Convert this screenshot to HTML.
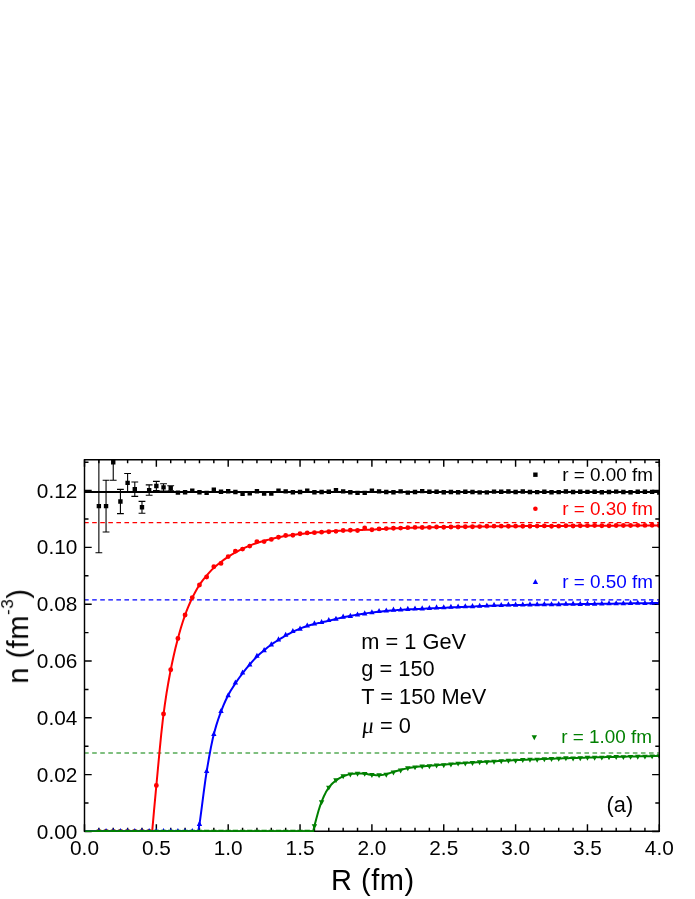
<!DOCTYPE html>
<html><head><meta charset="utf-8"><title>n(R)</title>
<style>html,body{margin:0;padding:0;background:#fff}svg{display:block}</style>
</head><body>
<svg width="695" height="899" viewBox="0 0 695 899">
<rect width="695" height="899" fill="#fff"/>
<defs><clipPath id="c"><rect x="83.8" y="459" width="576.2" height="373"/></clipPath></defs>
<path d="M84.5 831.3v-7M84.5 459.7v7M98.87 831.3v-3.6M98.87 459.7v3.6M113.24 831.3v-3.6M113.24 459.7v3.6M127.61 831.3v-3.6M127.61 459.7v3.6M141.98 831.3v-3.6M141.98 459.7v3.6M156.35 831.3v-7M156.35 459.7v7M170.72 831.3v-3.6M170.72 459.7v3.6M185.09 831.3v-3.6M185.09 459.7v3.6M199.46 831.3v-3.6M199.46 459.7v3.6M213.83 831.3v-3.6M213.83 459.7v3.6M228.2 831.3v-7M228.2 459.7v7M242.57 831.3v-3.6M242.57 459.7v3.6M256.94 831.3v-3.6M256.94 459.7v3.6M271.31 831.3v-3.6M271.31 459.7v3.6M285.68 831.3v-3.6M285.68 459.7v3.6M300.05 831.3v-7M300.05 459.7v7M314.42 831.3v-3.6M314.42 459.7v3.6M328.79 831.3v-3.6M328.79 459.7v3.6M343.16 831.3v-3.6M343.16 459.7v3.6M357.53 831.3v-3.6M357.53 459.7v3.6M371.9 831.3v-7M371.9 459.7v7M386.27 831.3v-3.6M386.27 459.7v3.6M400.64 831.3v-3.6M400.64 459.7v3.6M415.01 831.3v-3.6M415.01 459.7v3.6M429.38 831.3v-3.6M429.38 459.7v3.6M443.75 831.3v-7M443.75 459.7v7M458.12 831.3v-3.6M458.12 459.7v3.6M472.49 831.3v-3.6M472.49 459.7v3.6M486.86 831.3v-3.6M486.86 459.7v3.6M501.23 831.3v-3.6M501.23 459.7v3.6M515.6 831.3v-7M515.6 459.7v7M529.97 831.3v-3.6M529.97 459.7v3.6M544.34 831.3v-3.6M544.34 459.7v3.6M558.71 831.3v-3.6M558.71 459.7v3.6M573.08 831.3v-3.6M573.08 459.7v3.6M587.45 831.3v-7M587.45 459.7v7M601.82 831.3v-3.6M601.82 459.7v3.6M616.19 831.3v-3.6M616.19 459.7v3.6M630.56 831.3v-3.6M630.56 459.7v3.6M644.93 831.3v-3.6M644.93 459.7v3.6M659.3 831.3v-7M659.3 459.7v7M84.5 831.45h7.2M659.3 831.45h-7.2M84.5 803.04h4M659.3 803.04h-4M84.5 774.64h7.2M659.3 774.64h-7.2M84.5 746.23h4M659.3 746.23h-4M84.5 717.83h7.2M659.3 717.83h-7.2M84.5 689.42h4M659.3 689.42h-4M84.5 661.01h7.2M659.3 661.01h-7.2M84.5 632.61h4M659.3 632.61h-4M84.5 604.2h7.2M659.3 604.2h-7.2M84.5 575.8h4M659.3 575.8h-4M84.5 547.39h7.2M659.3 547.39h-7.2M84.5 518.98h4M659.3 518.98h-4M84.5 490.58h7.2M659.3 490.58h-7.2M84.5 462.17h4M659.3 462.17h-4" stroke="#000" stroke-width="1.45" fill="none"/><line x1="84.5" x2="659.3" y1="831.3" y2="831.3" stroke="#000" stroke-width="1.45"/>
<g clip-path="url(#c)">
<line x1="84.1" x2="659.3" y1="522.5" y2="522.5" stroke="#f00" stroke-width="1.25" stroke-dasharray="4.6 3.47"/>
<line x1="84.1" x2="659.3" y1="599.85" y2="599.85" stroke="#00f" stroke-width="1.25" stroke-dasharray="4.6 3.47"/>
<line x1="84.1" x2="659.3" y1="753" y2="753" stroke="#008000" stroke-width="1.15" stroke-dasharray="4.6 3.47"/>
<g stroke="#000" stroke-width="1.1" fill="none">
<path d="M98.87 459.5V552.7M95.47 459.5H102.27M95.47 552.7H102.27"/>
<path d="M106.05 480.2V532M102.65 480.2H109.45M102.65 532H109.45"/>
<path d="M113.24 444.2V480.2M109.84 444.2H116.64M109.84 480.2H116.64"/>
<path d="M120.42 489.4V513.6M117.02 489.4H123.83M117.02 513.6H123.83"/>
<path d="M127.61 473.5V492.3M124.21 473.5H131.01M124.21 492.3H131.01"/>
<path d="M134.79 482V496.4M131.39 482H138.19M131.39 496.4H138.19"/>
<path d="M141.98 501.4V513.2M138.58 501.4H145.38M138.58 513.2H145.38"/>
<path d="M149.16 484.9V495.3M145.76 484.9H152.56M145.76 495.3H152.56"/>
<path d="M156.35 481.4V490.6M152.95 481.4H159.75M152.95 490.6H159.75"/>
<path d="M163.53 483.8V491M160.13 483.8H166.94M160.13 491H166.94"/>
<path d="M170.72 485.7V490.9M167.32 485.7H174.12M167.32 490.9H174.12"/>
</g>
<line x1="84.5" x2="659.3" y1="492.05" y2="492.05" stroke="#000" stroke-width="2"/>
<path d="M96.67 503.9h4.4v4.4h-4.4zM103.85 503.9h4.4v4.4h-4.4zM111.04 460h4.4v4.4h-4.4zM118.22 499.3h4.4v4.4h-4.4zM125.41 480.7h4.4v4.4h-4.4zM132.59 487h4.4v4.4h-4.4zM139.78 505.1h4.4v4.4h-4.4zM146.97 487.9h4.4v4.4h-4.4zM154.15 483.8h4.4v4.4h-4.4zM161.34 485.2h4.4v4.4h-4.4zM168.52 486.1h4.4v4.4h-4.4zM175.71 490.4h4.4v4.4h-4.4zM182.89 490.1h4.4v4.4h-4.4zM190.07 488.4h4.4v4.4h-4.4zM197.26 490.1h4.4v4.4h-4.4zM204.44 490.7h4.4v4.4h-4.4zM211.63 487.5h4.4v4.4h-4.4zM218.81 489.5h4.4v4.4h-4.4zM226 489h4.4v4.4h-4.4zM233.19 489.8h4.4v4.4h-4.4zM240.37 491.5h4.4v4.4h-4.4zM247.55 491.2h4.4v4.4h-4.4zM254.74 489h4.4v4.4h-4.4zM261.93 491.4h4.4v4.4h-4.4zM269.11 491.4h4.4v4.4h-4.4zM276.3 488.5h4.4v4.4h-4.4zM283.48 489.2h4.4v4.4h-4.4zM290.67 490.1h4.4v4.4h-4.4zM297.85 489.8h4.4v4.4h-4.4zM305.04 488.5h4.4v4.4h-4.4zM312.22 490.1h4.4v4.4h-4.4zM319.4 489.8h4.4v4.4h-4.4zM326.59 489.5h4.4v4.4h-4.4zM333.77 488h4.4v4.4h-4.4zM340.96 489.2h4.4v4.4h-4.4zM348.14 490.1h4.4v4.4h-4.4zM355.33 490.7h4.4v4.4h-4.4zM362.51 490.7h4.4v4.4h-4.4zM369.7 488.5h4.4v4.4h-4.4zM376.88 489.2h4.4v4.4h-4.4zM384.07 489.8h4.4v4.4h-4.4zM391.25 490.1h4.4v4.4h-4.4zM398.44 489.2h4.4v4.4h-4.4zM405.62 490.4h4.4v4.4h-4.4zM412.81 489.8h4.4v4.4h-4.4zM420 488.9h4.4v4.4h-4.4zM427.18 489.5h4.4v4.4h-4.4zM434.37 489.5h4.4v4.4h-4.4zM441.55 490.1h4.4v4.4h-4.4zM448.73 489.85h4.4v4.4h-4.4zM455.92 490.01h4.4v4.4h-4.4zM463.1 489.59h4.4v4.4h-4.4zM470.29 489.81h4.4v4.4h-4.4zM477.47 490.19h4.4v4.4h-4.4zM484.66 490.2h4.4v4.4h-4.4zM491.84 489.43h4.4v4.4h-4.4zM499.03 489.51h4.4v4.4h-4.4zM506.21 489.35h4.4v4.4h-4.4zM513.4 489.74h4.4v4.4h-4.4zM520.58 489.33h4.4v4.4h-4.4zM527.77 489.76h4.4v4.4h-4.4zM534.95 489.95h4.4v4.4h-4.4zM542.14 489.58h4.4v4.4h-4.4zM549.32 489.98h4.4v4.4h-4.4zM556.51 489.89h4.4v4.4h-4.4zM563.69 489.32h4.4v4.4h-4.4zM570.88 489.86h4.4v4.4h-4.4zM578.06 489.56h4.4v4.4h-4.4zM585.25 489.72h4.4v4.4h-4.4zM592.43 489.58h4.4v4.4h-4.4zM599.62 489.99h4.4v4.4h-4.4zM606.8 489.74h4.4v4.4h-4.4zM613.99 489.46h4.4v4.4h-4.4zM621.17 489.84h4.4v4.4h-4.4zM628.36 490.08h4.4v4.4h-4.4zM635.54 489.61h4.4v4.4h-4.4zM642.73 489.52h4.4v4.4h-4.4zM649.91 489.69h4.4v4.4h-4.4zM657.1 490.24h4.4v4.4h-4.4z" fill="#000"/>
<polyline fill="none" stroke="#f00" stroke-width="2" stroke-linejoin="round" points="84.5,831.15 151.88,831.15 152.18,831.45 153.98,811.19 155.78,791.59 157.57,772.47 159.37,753.18 161.16,734.8 162.96,718.55 164.76,705.08 166.55,693.19 168.35,682.51 170.15,672.76 171.94,663.75 173.74,655.44 175.53,647.78 177.33,640.67 179.13,634.02 180.92,627.78 182.72,621.96 184.52,616.61 186.31,611.72 188.11,607.21 189.9,603.01 191.7,599.1 193.5,595.41 195.29,591.92 197.09,588.66 198.89,585.68 200.68,583.03 202.48,580.63 204.27,578.41 206.07,576.28 207.87,574.17 209.66,572.12 211.46,570.17 213.26,568.35 215.05,566.69 216.85,565.16 218.64,563.72 220.44,562.34 222.24,560.98 224.03,559.67 225.83,558.4 227.63,557.18 229.42,556 231.22,554.86 233.01,553.76 234.81,552.72 236.61,551.74 238.4,550.82 240.2,549.93 242,549.07 243.79,548.23 245.59,547.4 247.38,546.59 249.18,545.83 250.98,545.12 252.77,544.44 254.57,543.8 256.37,543.19 258.16,542.61 259.96,542.08 261.75,541.56 263.55,541.06 265.35,540.56 267.14,540.08 268.94,539.6 270.74,539.14 272.53,538.7 274.33,538.26 276.12,537.83 277.92,537.42 279.72,537.04 281.51,536.67 283.31,536.32 285.11,536 286.9,535.71 288.7,535.45 290.49,535.21 292.29,534.98 294.09,534.74 295.88,534.51 297.68,534.29 299.48,534.07 301.27,533.86 303.07,533.65 304.86,533.45 306.66,533.26 308.46,533.07 310.25,532.89 312.05,532.71 313.85,532.55 315.64,532.41 317.44,532.28 319.23,532.17 321.03,532.04 322.83,531.9 324.62,531.74 326.42,531.58 328.22,531.44 330.01,531.33 331.81,531.22 333.6,531.12 335.4,531.03 337.2,530.94 338.99,530.85 340.79,530.77 342.59,530.69 344.38,530.61 346.18,530.54 347.97,530.47 349.77,530.4 351.57,530.33 353.36,530.26 355.16,530.19 356.96,530.12 358.75,530.05 360.55,529.99 362.34,529.93 364.14,529.87 365.94,529.82 367.73,529.76 369.53,529.69 371.33,529.62 373.12,529.55 374.92,529.46 376.71,529.36 378.51,529.26 380.31,529.15 382.1,529.04 383.9,528.92 385.7,528.81 387.49,528.71 389.29,528.6 391.08,528.51 392.88,528.43 394.68,528.35 396.47,528.27 398.27,528.2 400.07,528.13 401.86,528.06 403.66,528 405.45,527.93 407.25,527.87 409.05,527.81 410.84,527.75 412.64,527.7 414.44,527.65 416.23,527.6 418.03,527.55 419.82,527.51 421.62,527.46 423.42,527.42 425.21,527.38 427.01,527.34 428.81,527.3 430.6,527.27 432.4,527.23 434.19,527.19 435.99,527.16 437.79,527.12 439.58,527.09 441.38,527.05 443.18,527.02 444.97,526.99 446.77,526.96 448.56,526.93 450.36,526.9 452.16,526.87 453.95,526.84 455.75,526.81 457.55,526.78 459.34,526.76 461.14,526.73 462.93,526.71 464.73,526.68 466.53,526.66 468.32,526.63 470.12,526.61 471.92,526.59 473.71,526.57 475.51,526.55 477.3,526.53 479.1,526.51 480.9,526.49 482.69,526.47 484.49,526.45 486.29,526.43 488.08,526.42 489.88,526.4 491.67,526.38 493.47,526.37 495.27,526.35 497.06,526.33 498.86,526.32 500.66,526.3 502.45,526.29 504.25,526.27 506.04,526.26 507.84,526.25 509.64,526.23 511.43,526.22 513.23,526.21 515.03,526.19 516.82,526.18 518.62,526.17 520.41,526.15 522.21,526.14 524.01,526.13 525.8,526.12 527.6,526.11 529.4,526.09 531.19,526.08 532.99,526.07 534.78,526.06 536.58,526.05 538.38,526.04 540.17,526.03 541.97,526.01 543.77,526 545.56,525.99 547.36,525.98 549.15,525.97 550.95,525.96 552.75,525.95 554.54,525.94 556.34,525.93 558.14,525.92 559.93,525.91 561.73,525.9 563.52,525.89 565.32,525.88 567.12,525.87 568.91,525.86 570.71,525.85 572.51,525.85 574.3,525.84 576.1,525.83 577.89,525.82 579.69,525.81 581.49,525.8 583.28,525.79 585.08,525.78 586.88,525.78 588.67,525.77 590.47,525.76 592.26,525.75 594.06,525.74 595.86,525.73 597.65,525.72 599.45,525.71 601.25,525.7 603.04,525.69 604.84,525.68 606.63,525.67 608.43,525.67 610.23,525.66 612.02,525.65 613.82,525.64 615.62,525.63 617.41,525.62 619.21,525.61 621,525.6 622.8,525.59 624.6,525.58 626.39,525.57 628.19,525.56 629.99,525.55 631.78,525.54 633.58,525.53 635.37,525.52 637.17,525.52 638.97,525.51 640.76,525.5 642.56,525.49 644.36,525.48 646.15,525.47 647.95,525.46 649.74,525.45 651.54,525.44 653.34,525.43 655.13,525.42 656.93,525.41 658.73,525.4 659.3,525.4"/>
<path d="M96.42 831.45a2.45 2.45 0 1 0 4.9 0a2.45 2.45 0 1 0 -4.9 0zM103.6 831.45a2.45 2.45 0 1 0 4.9 0a2.45 2.45 0 1 0 -4.9 0zM110.79 831.45a2.45 2.45 0 1 0 4.9 0a2.45 2.45 0 1 0 -4.9 0zM117.97 831.45a2.45 2.45 0 1 0 4.9 0a2.45 2.45 0 1 0 -4.9 0zM125.16 831.45a2.45 2.45 0 1 0 4.9 0a2.45 2.45 0 1 0 -4.9 0zM132.34 831.45a2.45 2.45 0 1 0 4.9 0a2.45 2.45 0 1 0 -4.9 0zM139.53 831.45a2.45 2.45 0 1 0 4.9 0a2.45 2.45 0 1 0 -4.9 0zM146.72 831.45a2.45 2.45 0 1 0 4.9 0a2.45 2.45 0 1 0 -4.9 0zM153.9 785.5a2.45 2.45 0 1 0 4.9 0a2.45 2.45 0 1 0 -4.9 0zM161.09 714a2.45 2.45 0 1 0 4.9 0a2.45 2.45 0 1 0 -4.9 0zM168.27 669.8a2.45 2.45 0 1 0 4.9 0a2.45 2.45 0 1 0 -4.9 0zM175.46 638.5a2.45 2.45 0 1 0 4.9 0a2.45 2.45 0 1 0 -4.9 0zM182.64 615a2.45 2.45 0 1 0 4.9 0a2.45 2.45 0 1 0 -4.9 0zM189.82 597.6a2.45 2.45 0 1 0 4.9 0a2.45 2.45 0 1 0 -4.9 0zM197.01 585a2.45 2.45 0 1 0 4.9 0a2.45 2.45 0 1 0 -4.9 0zM204.19 577a2.45 2.45 0 1 0 4.9 0a2.45 2.45 0 1 0 -4.9 0zM211.38 566.7a2.45 2.45 0 1 0 4.9 0a2.45 2.45 0 1 0 -4.9 0zM218.56 563.4a2.45 2.45 0 1 0 4.9 0a2.45 2.45 0 1 0 -4.9 0zM225.75 556.6a2.45 2.45 0 1 0 4.9 0a2.45 2.45 0 1 0 -4.9 0zM232.94 551.2a2.45 2.45 0 1 0 4.9 0a2.45 2.45 0 1 0 -4.9 0zM240.12 549.1a2.45 2.45 0 1 0 4.9 0a2.45 2.45 0 1 0 -4.9 0zM247.3 546.1a2.45 2.45 0 1 0 4.9 0a2.45 2.45 0 1 0 -4.9 0zM254.49 541.6a2.45 2.45 0 1 0 4.9 0a2.45 2.45 0 1 0 -4.9 0zM261.68 541.6a2.45 2.45 0 1 0 4.9 0a2.45 2.45 0 1 0 -4.9 0zM268.86 539.4a2.45 2.45 0 1 0 4.9 0a2.45 2.45 0 1 0 -4.9 0zM276.05 537.2a2.45 2.45 0 1 0 4.9 0a2.45 2.45 0 1 0 -4.9 0zM283.23 535.5a2.45 2.45 0 1 0 4.9 0a2.45 2.45 0 1 0 -4.9 0zM290.42 535.21a2.45 2.45 0 1 0 4.9 0a2.45 2.45 0 1 0 -4.9 0zM297.6 533.77a2.45 2.45 0 1 0 4.9 0a2.45 2.45 0 1 0 -4.9 0zM304.79 532.91a2.45 2.45 0 1 0 4.9 0a2.45 2.45 0 1 0 -4.9 0zM311.97 532.64a2.45 2.45 0 1 0 4.9 0a2.45 2.45 0 1 0 -4.9 0zM319.15 532.16a2.45 2.45 0 1 0 4.9 0a2.45 2.45 0 1 0 -4.9 0zM326.34 531.75a2.45 2.45 0 1 0 4.9 0a2.45 2.45 0 1 0 -4.9 0zM333.52 531.37a2.45 2.45 0 1 0 4.9 0a2.45 2.45 0 1 0 -4.9 0zM340.71 530.47a2.45 2.45 0 1 0 4.9 0a2.45 2.45 0 1 0 -4.9 0zM347.89 530.29a2.45 2.45 0 1 0 4.9 0a2.45 2.45 0 1 0 -4.9 0zM355.08 530.5a2.45 2.45 0 1 0 4.9 0a2.45 2.45 0 1 0 -4.9 0zM362.26 528a2.45 2.45 0 1 0 4.9 0a2.45 2.45 0 1 0 -4.9 0zM369.45 529.69a2.45 2.45 0 1 0 4.9 0a2.45 2.45 0 1 0 -4.9 0zM376.63 528.91a2.45 2.45 0 1 0 4.9 0a2.45 2.45 0 1 0 -4.9 0zM383.82 528.58a2.45 2.45 0 1 0 4.9 0a2.45 2.45 0 1 0 -4.9 0zM391 528.31a2.45 2.45 0 1 0 4.9 0a2.45 2.45 0 1 0 -4.9 0zM398.19 528.08a2.45 2.45 0 1 0 4.9 0a2.45 2.45 0 1 0 -4.9 0zM405.38 527.63a2.45 2.45 0 1 0 4.9 0a2.45 2.45 0 1 0 -4.9 0zM412.56 527.39a2.45 2.45 0 1 0 4.9 0a2.45 2.45 0 1 0 -4.9 0zM419.75 527.53a2.45 2.45 0 1 0 4.9 0a2.45 2.45 0 1 0 -4.9 0zM426.93 527.42a2.45 2.45 0 1 0 4.9 0a2.45 2.45 0 1 0 -4.9 0zM434.12 527a2.45 2.45 0 1 0 4.9 0a2.45 2.45 0 1 0 -4.9 0zM441.3 527.23a2.45 2.45 0 1 0 4.9 0a2.45 2.45 0 1 0 -4.9 0zM448.48 526.95a2.45 2.45 0 1 0 4.9 0a2.45 2.45 0 1 0 -4.9 0zM455.67 526.99a2.45 2.45 0 1 0 4.9 0a2.45 2.45 0 1 0 -4.9 0zM462.85 526.76a2.45 2.45 0 1 0 4.9 0a2.45 2.45 0 1 0 -4.9 0zM470.04 526.8a2.45 2.45 0 1 0 4.9 0a2.45 2.45 0 1 0 -4.9 0zM477.22 526.6a2.45 2.45 0 1 0 4.9 0a2.45 2.45 0 1 0 -4.9 0zM484.41 526.28a2.45 2.45 0 1 0 4.9 0a2.45 2.45 0 1 0 -4.9 0zM491.59 526.16a2.45 2.45 0 1 0 4.9 0a2.45 2.45 0 1 0 -4.9 0zM498.78 526.15a2.45 2.45 0 1 0 4.9 0a2.45 2.45 0 1 0 -4.9 0zM505.96 526.21a2.45 2.45 0 1 0 4.9 0a2.45 2.45 0 1 0 -4.9 0zM513.15 526.13a2.45 2.45 0 1 0 4.9 0a2.45 2.45 0 1 0 -4.9 0zM520.33 526.21a2.45 2.45 0 1 0 4.9 0a2.45 2.45 0 1 0 -4.9 0zM527.52 526.26a2.45 2.45 0 1 0 4.9 0a2.45 2.45 0 1 0 -4.9 0zM534.7 526.08a2.45 2.45 0 1 0 4.9 0a2.45 2.45 0 1 0 -4.9 0zM541.89 525.88a2.45 2.45 0 1 0 4.9 0a2.45 2.45 0 1 0 -4.9 0zM549.07 526.18a2.45 2.45 0 1 0 4.9 0a2.45 2.45 0 1 0 -4.9 0zM556.26 526.16a2.45 2.45 0 1 0 4.9 0a2.45 2.45 0 1 0 -4.9 0zM563.44 525.74a2.45 2.45 0 1 0 4.9 0a2.45 2.45 0 1 0 -4.9 0zM570.63 525.94a2.45 2.45 0 1 0 4.9 0a2.45 2.45 0 1 0 -4.9 0zM577.81 525.71a2.45 2.45 0 1 0 4.9 0a2.45 2.45 0 1 0 -4.9 0zM585 525.66a2.45 2.45 0 1 0 4.9 0a2.45 2.45 0 1 0 -4.9 0zM592.18 525.52a2.45 2.45 0 1 0 4.9 0a2.45 2.45 0 1 0 -4.9 0zM599.37 525.75a2.45 2.45 0 1 0 4.9 0a2.45 2.45 0 1 0 -4.9 0zM606.55 525.73a2.45 2.45 0 1 0 4.9 0a2.45 2.45 0 1 0 -4.9 0zM613.74 525.47a2.45 2.45 0 1 0 4.9 0a2.45 2.45 0 1 0 -4.9 0zM620.92 525.46a2.45 2.45 0 1 0 4.9 0a2.45 2.45 0 1 0 -4.9 0zM628.11 525.47a2.45 2.45 0 1 0 4.9 0a2.45 2.45 0 1 0 -4.9 0zM635.29 525.36a2.45 2.45 0 1 0 4.9 0a2.45 2.45 0 1 0 -4.9 0zM642.48 525.4a2.45 2.45 0 1 0 4.9 0a2.45 2.45 0 1 0 -4.9 0zM649.66 525.21a2.45 2.45 0 1 0 4.9 0a2.45 2.45 0 1 0 -4.9 0zM656.85 525.48a2.45 2.45 0 1 0 4.9 0a2.45 2.45 0 1 0 -4.9 0z" fill="#f00"/>
<polyline fill="none" stroke="#00f" stroke-width="2" stroke-linejoin="round" points="84.5,831.15 198.01,831.15 198.31,831.45 200.11,819.88 201.9,806.48 203.7,792.45 205.5,779.14 207.29,767.69 209.09,757.25 210.88,747.6 212.68,739.01 214.48,731.72 216.27,725.38 218.07,719.72 219.87,714.59 221.66,709.81 223.46,705.36 225.25,701.25 227.05,697.46 228.85,693.99 230.64,690.84 232.44,687.92 234.24,685.14 236.03,682.43 237.83,679.8 239.62,677.26 241.42,674.82 243.22,672.46 245.01,670.18 246.81,667.98 248.61,665.84 250.4,663.75 252.2,661.69 253.99,659.68 255.79,657.76 257.59,655.97 259.38,654.29 261.18,652.7 262.98,651.16 264.77,649.66 266.57,648.2 268.36,646.79 270.16,645.43 271.96,644.14 273.75,642.93 275.55,641.76 277.35,640.62 279.14,639.5 280.94,638.39 282.73,637.31 284.53,636.25 286.33,635.24 288.12,634.25 289.92,633.29 291.72,632.37 293.51,631.49 295.31,630.65 297.1,629.84 298.9,629.07 300.7,628.34 302.49,627.66 304.29,627 306.09,626.38 307.88,625.79 309.68,625.23 311.47,624.69 313.27,624.19 315.07,623.75 316.86,623.36 318.66,623 320.46,622.65 322.25,622.25 324.05,621.84 325.84,621.41 327.64,620.97 329.44,620.55 331.23,620.12 333.03,619.68 334.83,619.24 336.62,618.8 338.42,618.37 340.21,617.95 342.01,617.54 343.81,617.15 345.6,616.78 347.4,616.44 349.2,616.1 350.99,615.76 352.79,615.44 354.58,615.12 356.38,614.8 358.18,614.5 359.97,614.2 361.77,613.92 363.57,613.64 365.36,613.37 367.16,613.12 368.95,612.87 370.75,612.64 372.55,612.42 374.34,612.21 376.14,612 377.94,611.8 379.73,611.6 381.53,611.41 383.32,611.22 385.12,611.04 386.92,610.87 388.71,610.71 390.51,610.55 392.31,610.4 394.1,610.26 395.9,610.13 397.69,610 399.49,609.89 401.29,609.78 403.08,609.68 404.88,609.58 406.68,609.49 408.47,609.4 410.27,609.31 412.06,609.23 413.86,609.15 415.66,609.07 417.45,608.99 419.25,608.9 421.05,608.82 422.84,608.74 424.64,608.65 426.43,608.57 428.23,608.48 430.03,608.39 431.82,608.31 433.62,608.22 435.42,608.14 437.21,608.06 439.01,607.97 440.8,607.89 442.6,607.81 444.4,607.73 446.19,607.65 447.99,607.57 449.79,607.49 451.58,607.41 453.38,607.33 455.17,607.25 456.97,607.17 458.77,607.1 460.56,607.02 462.36,606.94 464.16,606.87 465.95,606.79 467.75,606.72 469.54,606.64 471.34,606.57 473.14,606.49 474.93,606.42 476.73,606.34 478.53,606.26 480.32,606.18 482.12,606.1 483.91,606.02 485.71,605.94 487.51,605.86 489.3,605.78 491.1,605.7 492.9,605.63 494.69,605.56 496.49,605.5 498.28,605.44 500.08,605.39 501.88,605.35 503.67,605.3 505.47,605.26 507.27,605.22 509.06,605.18 510.86,605.15 512.65,605.11 514.45,605.08 516.25,605.04 518.04,605.01 519.84,604.98 521.64,604.95 523.43,604.92 525.23,604.89 527.02,604.86 528.82,604.84 530.62,604.81 532.41,604.78 534.21,604.75 536.01,604.73 537.8,604.7 539.6,604.67 541.39,604.65 543.19,604.62 544.99,604.59 546.78,604.56 548.58,604.53 550.38,604.51 552.17,604.48 553.97,604.45 555.76,604.43 557.56,604.4 559.36,604.38 561.15,604.35 562.95,604.33 564.75,604.3 566.54,604.28 568.34,604.25 570.13,604.23 571.93,604.2 573.73,604.18 575.52,604.15 577.32,604.13 579.12,604.11 580.91,604.08 582.71,604.06 584.5,604.03 586.3,604.01 588.1,603.99 589.89,603.96 591.69,603.94 593.49,603.91 595.28,603.89 597.08,603.87 598.87,603.84 600.67,603.82 602.47,603.79 604.26,603.77 606.06,603.74 607.86,603.72 609.65,603.69 611.45,603.67 613.24,603.64 615.04,603.62 616.84,603.59 618.63,603.57 620.43,603.54 622.23,603.52 624.02,603.49 625.82,603.47 627.61,603.44 629.41,603.42 631.21,603.39 633,603.37 634.8,603.34 636.6,603.32 638.39,603.29 640.19,603.27 641.98,603.24 643.78,603.22 645.58,603.19 647.37,603.17 649.17,603.14 650.97,603.12 652.76,603.09 654.56,603.07 656.35,603.04 658.15,603.02 659.3,603"/>
<path d="M98.87 827.95L101.57 833.05L96.17 833.05zM106.05 827.95L108.75 833.05L103.35 833.05zM113.24 827.95L115.94 833.05L110.54 833.05zM120.42 827.95L123.12 833.05L117.72 833.05zM127.61 827.95L130.31 833.05L124.91 833.05zM134.79 827.95L137.49 833.05L132.09 833.05zM141.98 827.95L144.68 833.05L139.28 833.05zM149.16 827.95L151.86 833.05L146.47 833.05zM156.35 827.95L159.05 833.05L153.65 833.05zM163.53 827.95L166.23 833.05L160.84 833.05zM170.72 827.95L173.42 833.05L168.02 833.05zM177.91 827.95L180.6 833.05L175.21 833.05zM185.09 827.95L187.79 833.05L182.39 833.05zM192.27 827.95L194.97 833.05L189.57 833.05zM199.46 820.8L202.16 825.9L196.76 825.9zM206.64 767.88L209.34 772.98L203.94 772.98zM213.83 730.91L216.53 736.01L211.13 736.01zM221.01 707.97L223.71 713.07L218.31 713.07zM228.2 692.14L230.9 697.24L225.5 697.24zM235.38 679.52L238.08 684.62L232.69 684.62zM242.57 669.44L245.27 674.54L239.87 674.54zM249.75 661.42L252.45 666.52L247.05 666.52zM256.94 652.69L259.64 657.79L254.24 657.79zM264.12 647.03L266.82 652.13L261.43 652.13zM271.31 641.29L274.01 646.39L268.61 646.39zM278.5 636.3L281.19 641.4L275.8 641.4zM285.68 631.7L288.38 636.8L282.98 636.8zM292.87 627.98L295.56 633.08L290.17 633.08zM300.05 625.55L302.75 630.65L297.35 630.65zM307.24 622.48L309.94 627.58L304.54 627.58zM314.42 620.35L317.12 625.45L311.72 625.45zM321.6 618.91L324.3 624.01L318.9 624.01zM328.79 616.96L331.49 622.06L326.09 622.06zM335.97 615.76L338.67 620.86L333.27 620.86zM343.16 613.55L345.86 618.65L340.46 618.65zM350.34 612.81L353.04 617.91L347.64 617.91zM357.53 611.43L360.23 616.53L354.83 616.53zM364.71 610.31L367.41 615.41L362.01 615.41zM371.9 609.17L374.6 614.27L369.2 614.27zM379.08 608.02L381.78 613.12L376.38 613.12zM386.27 607.46L388.97 612.56L383.57 612.56zM393.45 606.53L396.15 611.63L390.75 611.63zM400.64 606.42L403.34 611.52L397.94 611.52zM407.82 605.81L410.52 610.91L405.12 610.91zM415.01 605.49L417.71 610.59L412.31 610.59zM422.19 605.35L424.89 610.45L419.5 610.45zM429.38 605.01L432.08 610.11L426.68 610.11zM436.56 604.35L439.26 609.45L433.87 609.45zM443.75 604.2L446.45 609.3L441.05 609.3zM450.93 603.71L453.63 608.81L448.23 608.81zM458.12 603.49L460.82 608.59L455.42 608.59zM465.3 603.16L468 608.26L462.6 608.26zM472.49 603.07L475.19 608.17L469.79 608.17zM479.67 602.74L482.37 607.84L476.97 607.84zM486.86 602.43L489.56 607.53L484.16 607.53zM494.04 601.84L496.74 606.94L491.34 606.94zM501.23 602.02L503.93 607.12L498.53 607.12zM508.41 601.47L511.11 606.57L505.71 606.57zM515.6 601.6L518.3 606.7L512.9 606.7zM522.78 601.47L525.49 606.57L520.08 606.57zM529.97 601.34L532.67 606.44L527.27 606.44zM537.15 601.27L539.86 606.37L534.45 606.37zM544.34 601.12L547.04 606.22L541.64 606.22zM551.52 601.22L554.23 606.32L548.82 606.32zM558.71 601.09L561.41 606.19L556.01 606.19zM565.89 600.67L568.6 605.77L563.19 605.77zM573.08 600.62L575.78 605.72L570.38 605.72zM580.26 600.83L582.97 605.93L577.56 605.93zM587.45 600.59L590.15 605.69L584.75 605.69zM594.63 600.54L597.34 605.64L591.93 605.64zM601.82 600.52L604.52 605.62L599.12 605.62zM609 600.19L611.71 605.29L606.3 605.29zM616.19 600.14L618.89 605.24L613.49 605.24zM623.38 600.23L626.08 605.33L620.67 605.33zM630.56 599.86L633.26 604.96L627.86 604.96zM637.75 599.65L640.45 604.75L635.04 604.75zM644.93 599.89L647.63 604.99L642.23 604.99zM652.12 599.71L654.82 604.81L649.41 604.81zM659.3 599.43L662 604.53L656.6 604.53z" fill="#00f"/>
<polyline fill="none" stroke="#008000" stroke-width="2" stroke-linejoin="round" points="84.5,831.15 312.83,831.15 313.13,831.45 314.92,824.06 316.72,817.24 318.52,810.82 320.31,805.1 322.11,800.37 323.9,796.25 325.7,792.59 327.5,789.48 329.29,786.95 331.09,784.81 332.89,782.97 334.68,781.39 336.48,780.05 338.27,778.88 340.07,777.85 341.87,776.96 343.66,776.2 345.46,775.48 347.26,774.84 349.05,774.33 350.85,774.03 352.64,773.81 354.44,773.64 356.24,773.53 358.03,773.5 359.83,773.54 361.63,773.62 363.42,773.72 365.22,773.84 367.01,774.1 368.81,774.45 370.61,774.76 372.4,774.93 374.2,775.04 376,775.13 377.79,775.19 379.59,775.19 381.38,775.04 383.18,774.74 384.98,774.37 386.77,773.99 388.57,773.5 390.37,772.91 392.16,772.3 393.96,771.75 395.75,771.23 397.55,770.73 399.35,770.24 401.14,769.77 402.94,769.32 404.74,768.88 406.53,768.47 408.33,768.1 410.12,767.76 411.92,767.44 413.72,767.17 415.51,766.94 417.31,766.76 419.11,766.59 420.9,766.44 422.7,766.3 424.49,766.17 426.29,766.04 428.09,765.9 429.88,765.76 431.68,765.61 433.48,765.45 435.27,765.3 437.07,765.15 438.86,765 440.66,764.85 442.46,764.7 444.25,764.56 446.05,764.42 447.85,764.27 449.64,764.13 451.44,763.99 453.23,763.86 455.03,763.72 456.83,763.59 458.62,763.46 460.42,763.34 462.22,763.22 464.01,763.09 465.81,762.97 467.6,762.86 469.4,762.74 471.2,762.62 472.99,762.51 474.79,762.4 476.59,762.29 478.38,762.18 480.18,762.07 481.97,761.96 483.77,761.86 485.57,761.75 487.36,761.65 489.16,761.55 490.96,761.44 492.75,761.35 494.55,761.25 496.34,761.15 498.14,761.06 499.94,760.97 501.73,760.87 503.53,760.79 505.33,760.7 507.12,760.61 508.92,760.52 510.71,760.44 512.51,760.35 514.31,760.27 516.1,760.18 517.9,760.1 519.7,760.02 521.49,759.94 523.29,759.86 525.08,759.78 526.88,759.7 528.68,759.62 530.47,759.55 532.27,759.47 534.07,759.4 535.86,759.33 537.66,759.26 539.45,759.18 541.25,759.12 543.05,759.05 544.84,758.98 546.64,758.92 548.44,758.85 550.23,758.79 552.03,758.72 553.82,758.66 555.62,758.59 557.42,758.53 559.21,758.47 561.01,758.41 562.81,758.35 564.6,758.29 566.4,758.23 568.19,758.17 569.99,758.11 571.79,758.06 573.58,758 575.38,757.94 577.18,757.89 578.97,757.83 580.77,757.78 582.56,757.73 584.36,757.67 586.16,757.62 587.95,757.57 589.75,757.52 591.55,757.47 593.34,757.42 595.14,757.37 596.93,757.33 598.73,757.28 600.53,757.23 602.32,757.19 604.12,757.14 605.92,757.1 607.71,757.05 609.51,757.01 611.3,756.97 613.1,756.92 614.9,756.88 616.69,756.84 618.49,756.8 620.29,756.76 622.08,756.72 623.88,756.68 625.67,756.64 627.47,756.6 629.27,756.56 631.06,756.52 632.86,756.48 634.66,756.45 636.45,756.41 638.25,756.37 640.04,756.34 641.84,756.3 643.64,756.27 645.43,756.24 647.23,756.2 649.03,756.17 650.82,756.14 652.62,756.11 654.41,756.08 656.21,756.05 658.01,756.02 659.3,756"/>
<path d="M98.87 834.75L101.62 829.8L96.12 829.8zM106.05 834.75L108.8 829.8L103.3 829.8zM113.24 834.75L115.99 829.8L110.49 829.8zM120.42 834.75L123.17 829.8L117.67 829.8zM127.61 834.75L130.36 829.8L124.86 829.8zM134.79 834.75L137.54 829.8L132.04 829.8zM141.98 834.75L144.73 829.8L139.23 829.8zM149.16 834.75L151.91 829.8L146.41 829.8zM156.35 834.75L159.1 829.8L153.6 829.8zM163.53 834.75L166.28 829.8L160.78 829.8zM170.72 834.75L173.47 829.8L167.97 829.8zM177.91 834.75L180.66 829.8L175.16 829.8zM185.09 834.75L187.84 829.8L182.34 829.8zM192.27 834.75L195.02 829.8L189.52 829.8zM199.46 834.75L202.21 829.8L196.71 829.8zM206.64 834.75L209.39 829.8L203.89 829.8zM213.83 834.75L216.58 829.8L211.08 829.8zM221.01 834.75L223.76 829.8L218.26 829.8zM228.2 834.75L230.95 829.8L225.45 829.8zM235.38 834.75L238.13 829.8L232.63 829.8zM242.57 834.75L245.32 829.8L239.82 829.8zM249.75 834.75L252.5 829.8L247 829.8zM256.94 834.75L259.69 829.8L254.19 829.8zM264.12 834.75L266.88 829.8L261.38 829.8zM271.31 834.75L274.06 829.8L268.56 829.8zM278.5 834.75L281.25 829.8L275.75 829.8zM285.68 834.75L288.43 829.8L282.93 829.8zM292.87 834.75L295.62 829.8L290.12 829.8zM300.05 834.75L302.8 829.8L297.3 829.8zM307.24 834.75L309.99 829.8L304.49 829.8zM314.42 829.3L317.17 824.35L311.67 824.35zM321.6 805.14L324.35 800.19L318.85 800.19zM328.79 790.61L331.54 785.66L326.04 785.66zM335.97 783.28L338.72 778.33L333.22 778.33zM343.16 779.27L345.91 774.32L340.41 774.32zM350.34 777.44L353.09 772.49L347.59 772.49zM357.53 776.7L360.28 771.75L354.78 771.75zM364.71 776.85L367.46 771.9L361.96 771.9zM371.9 778.07L374.65 773.12L369.15 773.12zM379.08 778.3L381.83 773.35L376.33 773.35zM386.27 777.82L389.02 772.87L383.52 772.87zM393.45 775.38L396.2 770.43L390.7 770.43zM400.64 773.42L403.39 768.47L397.89 768.47zM407.82 771.32L410.57 766.37L405.07 766.37zM415.01 770.36L417.76 765.41L412.26 765.41zM422.19 769.55L424.94 764.6L419.44 764.6zM429.38 769.22L432.13 764.27L426.63 764.27zM436.56 768.57L439.31 763.62L433.81 763.62zM443.75 768.15L446.5 763.2L441 763.2zM450.93 767.4L453.68 762.45L448.18 762.45zM458.12 766.58L460.87 761.63L455.37 761.63zM465.3 766.45L468.05 761.5L462.55 761.5zM472.49 765.93L475.24 760.98L469.74 760.98zM479.67 765.19L482.42 760.24L476.92 760.24zM486.86 765.21L489.61 760.26L484.11 760.26zM494.04 764.79L496.79 759.84L491.29 759.84zM501.23 764.14L503.98 759.19L498.48 759.19zM508.41 763.66L511.16 758.71L505.66 758.71zM515.6 763.75L518.35 758.8L512.85 758.8zM522.78 763.06L525.53 758.11L520.03 758.11zM529.97 762.71L532.72 757.76L527.22 757.76zM537.15 762.79L539.9 757.84L534.4 757.84zM544.34 762.22L547.09 757.27L541.59 757.27zM551.52 762.03L554.27 757.08L548.77 757.08zM558.71 761.8L561.46 756.85L555.96 756.85zM565.89 761.32L568.64 756.37L563.14 756.37zM573.08 761.56L575.83 756.61L570.33 756.61zM580.26 761.22L583.01 756.27L577.51 756.27zM587.45 760.78L590.2 755.83L584.7 755.83zM594.63 760.77L597.38 755.82L591.88 755.82zM601.82 760.61L604.57 755.66L599.07 755.66zM609 760.23L611.75 755.28L606.25 755.28zM616.19 759.94L618.94 754.99L613.44 754.99zM623.38 760.12L626.12 755.17L620.62 755.17zM630.56 759.85L633.31 754.9L627.81 754.9zM637.75 759.81L640.5 754.86L635 754.86zM644.93 759.61L647.68 754.66L642.18 754.66zM652.12 759.37L654.87 754.42L649.37 754.42zM659.3 759.16L662.05 754.21L656.55 754.21z" fill="#008000"/>
</g>
<path d="M84.5 831.3V459.7H659.3V831.3" stroke="#000" stroke-width="1.45" fill="none" stroke-linecap="square"/>
<g font-family="Liberation Sans, sans-serif" fill="#000" opacity="0.999">
<g font-size="20.8" text-anchor="middle">
<text x="84.5" y="854.6">0.0</text>
<text x="156.35" y="854.6">0.5</text>
<text x="228.2" y="854.6">1.0</text>
<text x="300.05" y="854.6">1.5</text>
<text x="371.9" y="854.6">2.0</text>
<text x="443.75" y="854.6">2.5</text>
<text x="515.6" y="854.6">3.0</text>
<text x="587.45" y="854.6">3.5</text>
<text x="659.3" y="854.6">4.0</text>
</g>
<g font-size="20.8" text-anchor="end">
<text x="77.3" y="838.55">0.00</text>
<text x="77.3" y="781.74">0.02</text>
<text x="77.3" y="724.93">0.04</text>
<text x="77.3" y="668.11">0.06</text>
<text x="77.3" y="611.3">0.08</text>
<text x="77.3" y="554.49">0.10</text>
<text x="77.3" y="497.68">0.12</text>
</g>
<text x="372.8" y="889.6" font-size="29" letter-spacing="0.5" text-anchor="middle">R (fm)</text>
<text transform="translate(28.1 636.2) rotate(-90)" font-size="29" letter-spacing="0.55" text-anchor="middle">n (fm<tspan font-size="17" dy="-14.8">-3</tspan><tspan dy="14.8">)</tspan></text>
<g font-size="21.8">
<text x="361.3" y="649.2">m = 1 GeV</text>
<text x="361.3" y="676.2">g = 150</text>
<text x="361.3" y="703.5">T = 150 MeV</text>
<text transform="translate(361.2 733.2) skewX(-7)" font-family="Liberation Serif, serif" font-size="23">μ</text>
<text x="379.9" y="733.2">= 0</text>
<text x="606.6" y="811.5">(a)</text>
</g>
<g font-size="18.9">
<text x="562.2" y="480.5">r = 0.00 fm</text>
<text x="562.2" y="514.8" fill="#f00">r = 0.30 fm</text>
<text x="562.2" y="588.3" fill="#00f">r = 0.50 fm</text>
<text x="561.2" y="743" fill="#008000">r = 1.00 fm</text>
</g>
</g>
<path d="M533.2 472.5h4.4v4.4h-4.4z" fill="#000"/>
<circle cx="535.4" cy="508.7" r="2.3" fill="#f00"/>
<path d="M535.4 579l2.7 5h-5.4z" fill="#00f"/>
<path d="M534.3 740.2l2.7 -5h-5.4z" fill="#008000"/>
</svg>
</body></html>
